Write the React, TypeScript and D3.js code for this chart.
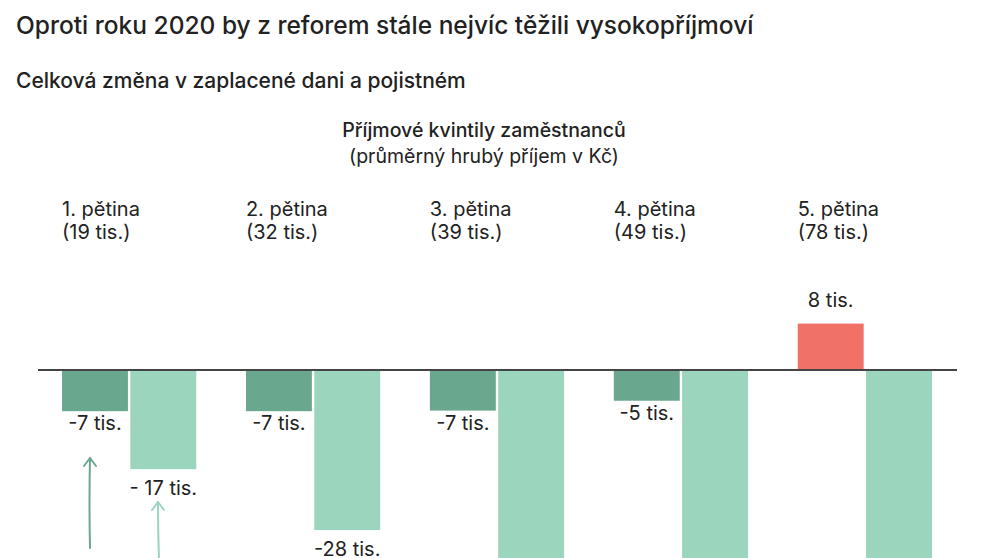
import React from 'react';
import * as d3 from 'd3';

const quintiles = ['1. pětina', '2. pětina', '3. pětina', '4. pětina', '5. pětina'];
const incomes = ['(19 tis.)', '(32 tis.)', '(39 tis.)', '(49 tis.)', '(78 tis.)'];
// dark bars (first reform) and light bars (second reform), thousands CZK
const reformDark = [-7.1, -7.1, -7, -5.3, 8];
const reformLight = [-17.1, -27.6, -36, -45, -70];
const darkLabels = ['-7 tis.', '-7 tis.', '-7 tis.', '-5 tis.', '8 tis.'];
const lightLabels = ['- 17 tis.', '-28 tis.', '', '', ''];

const W = 991;
const H = 558;
const FONT = 'Inter, "Noto Sans", sans-serif';

const App: React.FC = () => {
  const x = d3
    .scaleBand<string>()
    .domain(quintiles)
    .range([62, 932])
    .paddingInner(0.27)
    .paddingOuter(0);

  const sub = d3
    .scaleBand<string>()
    .domain(['dark', 'light'])
    .range([0, x.bandwidth()])
    .paddingInner(0.035);

  const y = d3.scaleLinear().domain([-80, 10]).range([370 + 80 * 5.8, 370 - 10 * 5.8]);

  const y0 = y(0);

  return (
    <div style={{ position: 'absolute', left: 0, top: 0, width: W, height: H, overflow: 'hidden', background: '#fff' }}>
      <svg width={W} height={H} style={{ display: 'block', fontFamily: FONT }}>
        <text x={16} y={34} fontSize={24.5} fontWeight={500} fill="#222">
          Oproti roku 2020 by z reforem stále nejvíc těžili vysokopříjmoví
        </text>
        <text x={16} y={88} fontSize={21} fontWeight={500} fill="#222">
          Celková změna v zaplacené dani a pojistném
        </text>
        <text x={484} y={137} fontSize={19.5} fontWeight={500} fill="#222" textAnchor="middle">
          Příjmové kvintily zaměstnanců
        </text>
        <text x={484} y={163} fontSize={19.5} fill="#222" textAnchor="middle">
          (průměrný hrubý příjem v Kč)
        </text>

        {quintiles.map((q, i) => (
          <g key={q}>
            <text x={x(q)!} y={216} fontSize={20} fill="#222">
              {q}
            </text>
            <text x={x(q)!} y={239} fontSize={20} fill="#222">
              {incomes[i]}
            </text>
          </g>
        ))}

        {quintiles.map((q, i) => {
          const v = reformDark[i];
          const bx = x(q)! + sub('dark')!;
          const top = Math.min(y(v), y0);
          const h = Math.abs(y(v) - y0);
          const pos = v > 0;
          return (
            <g key={'d' + q}>
              <rect x={bx} y={top} width={sub.bandwidth()} height={h} fill={pos ? '#ef7168' : '#69a88f'} />
              <text
                x={bx + sub.bandwidth() / 2}
                y={pos ? y(v) - 17 : y(v) + 19}
                fontSize={20}
                fill="#222"
                textAnchor="middle"
              >
                {darkLabels[i]}
              </text>
            </g>
          );
        })}

        {quintiles.map((q, i) => {
          const v = reformLight[i];
          const bx = x(q)! + sub('light')!;
          return (
            <g key={'l' + q}>
              <rect x={bx} y={y0} width={sub.bandwidth()} height={y(v) - y0} fill="#9bd5bd" />
              <text x={bx + sub.bandwidth() / 2} y={y(v) + 26} fontSize={20} fill="#222" textAnchor="middle">
                {lightLabels[i]}
              </text>
            </g>
          );
        })}

        <line x1={38} x2={957} y1={y0} y2={y0} stroke="#444" strokeWidth={1.8} />

        {/* annotation arrows */}
        <g fill="none" strokeWidth={2} strokeLinecap="round" strokeLinejoin="round">
          <path d="M90,548 Q89,500 90,458" stroke="#69a88f" />
          <path d="M84,466 L90,458 L96,466" stroke="#69a88f" />
          <path d="M159,560 Q158,530 158,502" stroke="#9bd5bd" />
          <path d="M152,510 L158,502 L164,510" stroke="#9bd5bd" />
        </g>
      </svg>
    </div>
  );
};

export default App;
